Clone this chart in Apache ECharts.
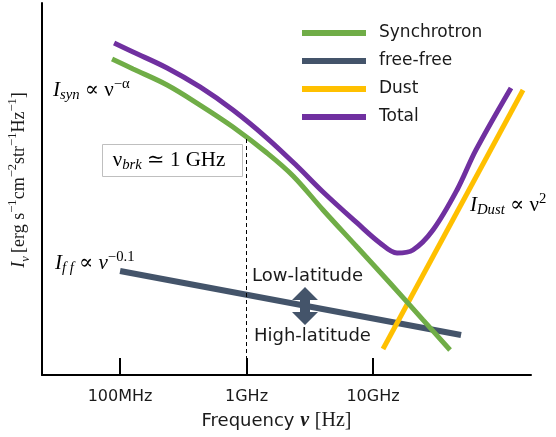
<!DOCTYPE html>
<html>
<head>
<meta charset="utf-8">
<script src="https://cdn.jsdelivr.net/npm/echarts@6/dist/echarts.min.js"></script>
<style>
  html, body { margin: 0; padding: 0; background: #fff; }
  #main { width: 556px; height: 437px; }
</style>
</head>
<body>
<div id="main"></div>
<script>
// x = log10(frequency / Hz), y = log10 intensity (arbitrary units)
var tickValues = [8, 9, 10];
var tickLabels = ['100MHz', '1GHz', '10GHz'];
var seriesNames = ['Synchrotron', 'free-free', 'Dust', 'Total'];

var synchrotron = [[7.937, 2.548], [8.103, 2.468], [8.372, 2.339], [8.632, 2.177], [8.893, 2.000],
  [9.162, 1.790], [9.368, 1.605], [9.605, 1.331], [9.874, 1.032], [10.134, 0.742],
  [10.395, 0.444], [10.609, 0.202]];
var freeFree = [[8.0, 0.839], [10.696, 0.323]];
var dust = [[10.079, 0.21], [11.186, 2.298]];
var total = [[7.953, 2.677], [8.103, 2.605], [8.372, 2.476], [8.632, 2.323], [8.893, 2.137],
  [9.162, 1.911], [9.399, 1.685], [9.605, 1.476], [9.874, 1.226], [10.055, 1.065],
  [10.190, 0.984], [10.316, 1.008], [10.474, 1.169], [10.664, 1.492], [10.814, 1.815],
  [11.091, 2.315]];
var breakFreq = 9;
var breakLevel = 1.903; // synchrotron level at 1 GHz

var serif = "'Liberation Serif', 'DejaVu Serif', serif";
var sans = "'DejaVu Sans', 'Noto Sans', sans-serif";
var ink = '#1a1a1a';

function mathRich(size) {
  return {
    i: { fontFamily: serif, fontStyle: 'italic', fontSize: size, color: ink, lineHeight: 26, verticalAlign: 'middle' },
    n: { fontFamily: serif, fontSize: size, color: ink, lineHeight: 26, verticalAlign: 'middle' },
    sub: { fontFamily: serif, fontStyle: 'italic', fontSize: size * 0.7, color: ink, lineHeight: 15, verticalAlign: 'bottom' },
    sup: { fontFamily: serif, fontSize: size * 0.7, color: ink, lineHeight: 15, verticalAlign: 'top' }
  };
}

var chart = echarts.init(document.getElementById('main'));
chart.setOption({
  animation: false,
  backgroundColor: '#fff',
  grid: { left: 42, right: 25, top: 3, bottom: 62, outerBoundsMode: 'none', containLabel: false },
  legend: {
    orient: 'vertical',
    left: 297,
    top: 18,
    data: seriesNames,
    icon: 'rect',
    itemWidth: 64,
    itemHeight: 6,
    itemGap: 8,
    textStyle: { fontFamily: sans, fontSize: 17, color: ink, lineHeight: 20, padding: [0, 0, 0, 8] }
  },
  xAxis: {
    type: 'value',
    min: 7.383,
    max: 11.249,
    name: 'Frequency {i|ν} {n|[Hz]}',
    nameLocation: 'middle',
    nameGap: 36,
    nameTextStyle: {
      fontFamily: sans, fontSize: 18, color: ink, padding: [0, 20, 0, 0],
      rich: {
        i: { fontFamily: serif, fontStyle: 'italic', fontWeight: 'bold', fontSize: 20, color: ink },
        n: { fontFamily: serif, fontSize: 20, color: ink }
      }
    },
    axisLine: { lineStyle: { color: '#000', width: 2 } },
    axisTick: { show: true, inside: true, length: 17, customValues: tickValues, lineStyle: { color: '#000', width: 2 } },
    axisLabel: {
      customValues: tickValues,
      margin: 14,
      fontFamily: sans, fontSize: 16, color: ink,
      formatter: function (v) { return tickLabels[tickValues.indexOf(Math.round(v))] || ''; }
    },
    splitLine: { show: false }
  },
  yAxis: {
    type: 'value',
    min: 0,
    max: 3,
    name: '{i|I}{sub|ν} {n|[erg s}{sup|−1}{n|cm}{sup|−2}{n|str}{sup|−1}{n|Hz}{sup|−1}{n|]}',
    nameLocation: 'middle',
    nameGap: 10,
    nameTextStyle: { padding: [0, 0, 0, 18], rich: mathRich(18) },
    axisLine: { show: true, lineStyle: { color: '#000', width: 2 } },
    axisTick: { show: false },
    axisLabel: { show: false },
    splitLine: { show: false }
  },
  series: [
    {
      name: 'free-free', type: 'line', data: freeFree, showSymbol: false, symbol: 'none',
      lineStyle: { color: '#44546A', width: 6 }, itemStyle: { color: '#44546A' }, z: 2
    },
    {
      name: 'Dust', type: 'line', data: dust, showSymbol: false, symbol: 'none',
      lineStyle: { color: '#FFC000', width: 5 }, itemStyle: { color: '#FFC000' }, z: 3
    },
    {
      name: 'Synchrotron', type: 'line', data: synchrotron, smooth: 0.35,
      showSymbol: false, symbol: 'none',
      lineStyle: { color: '#70AD47', width: 5 }, itemStyle: { color: '#70AD47' }, z: 4,
      markLine: {
        silent: true, symbol: 'none', label: { show: false },
        lineStyle: { color: '#000', width: 1, type: [4, 3] },
        data: [[{ coord: [breakFreq, breakLevel] }, { coord: [breakFreq, 0] }]]
      }
    },
    {
      name: 'Total', type: 'line', data: total, smooth: 0.35,
      showSymbol: false, symbol: 'none',
      lineStyle: { color: '#7030A0', width: 5 }, itemStyle: { color: '#7030A0' }, z: 5
    }
  ],
  graphic: [
    {
      type: 'rect', left: 102, top: 144, z: 10,
      shape: { width: 140, height: 32 },
      style: { fill: '#fff', stroke: '#bfbfbf', lineWidth: 1 }
    },
    {
      type: 'text', x: 169, y: 160, z: 11,
      style: { text: '{n|ν}{sub|brk}{n| ≃ 1 GHz}', rich: mathRich(21), align: 'center', verticalAlign: 'middle' }
    },
    {
      type: 'text', x: 53, y: 90, z: 11,
      style: { text: '{i|I}{sub|syn}{n| ∝ ν}{sup|−α}', rich: mathRich(21), verticalAlign: 'middle' }
    },
    {
      type: 'text', x: 55, y: 263, z: 11,
      style: { text: '{i|I}{sub|f f}{n| ∝ }{i|ν}{sup|−0.1}', rich: mathRich(21), verticalAlign: 'middle' }
    },
    {
      type: 'text', x: 470, y: 205, z: 11,
      style: { text: '{i|I}{sub|Dust}{n| ∝ ν}{sup|2}', rich: mathRich(21), verticalAlign: 'middle' }
    },
    {
      type: 'text', x: 252, y: 276, z: 11,
      style: { text: 'Low-latitude', fontFamily: sans, fontSize: 18, fill: ink, verticalAlign: 'middle' }
    },
    {
      type: 'text', x: 254, y: 336, z: 11,
      style: { text: 'High-latitude', fontFamily: sans, fontSize: 18, fill: ink, verticalAlign: 'middle' }
    },
    {
      type: 'polygon', z: 11,
      shape: { points: [[305, 287], [318, 300], [310, 300], [310, 312], [318, 312], [305, 325],
        [292, 312], [300, 312], [300, 300], [292, 300]] },
      style: { fill: '#44546A' }
    }
  ]
});
</script>
</body>
</html>
